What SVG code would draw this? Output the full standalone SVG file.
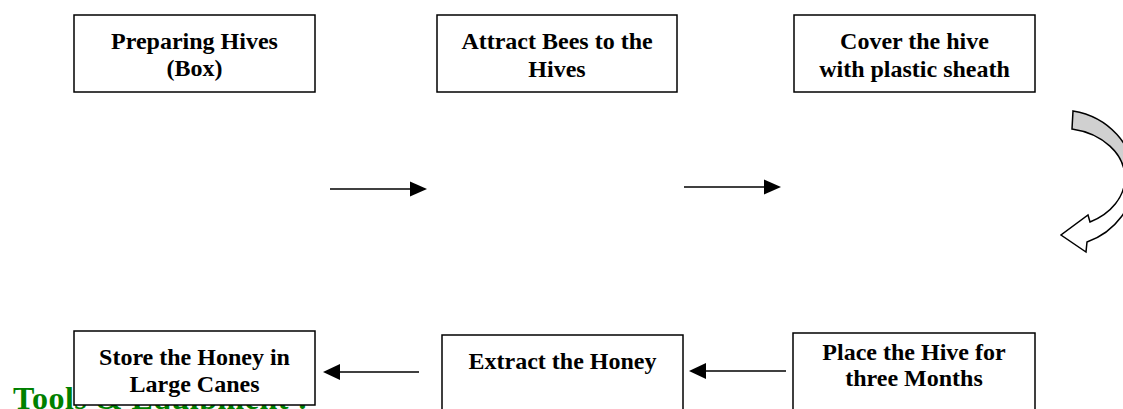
<svg xmlns="http://www.w3.org/2000/svg" width="1123" height="409" viewBox="0 0 1123 409">
<defs>
<style>
.box{fill:#fff;stroke:#000;stroke-width:1.5}
.t{font-family:"Liberation Serif","Times New Roman",serif;font-weight:bold;font-size:24px;fill:#000;text-anchor:middle}
.g{font-family:"Liberation Serif","Times New Roman",serif;font-weight:bold;font-size:32px;fill:#008000;letter-spacing:0.5px}
.c{stroke:#000;stroke-width:1.5;fill:none}
.h{fill:#000;stroke:none}
</style>
</defs>
<rect width="1123" height="409" fill="#fff"/>
<text class="g" x="13" y="409">Tools &amp; Equipment :</text>
<g id="n1"><rect class="box" x="74" y="15" width="241" height="77"/><text class="t" x="194.5" y="48.5">Preparing Hives</text><text class="t" x="194.5" y="76">(Box)</text></g>
<g id="n2"><rect class="box" x="437" y="15" width="240" height="77"/><text class="t" x="557" y="49">Attract Bees to the</text><text class="t" x="557" y="76.5">Hives</text></g>
<g id="n3"><rect class="box" x="794" y="15" width="241" height="77"/><text class="t" x="914.5" y="49">Cover the hive</text><text class="t" x="914.5" y="77">with plastic sheath</text></g>
<g id="n4"><rect class="box" x="793" y="333" width="242" height="85"/><text class="t" x="914" y="359.5">Place the Hive for</text><text class="t" x="914" y="386">three Months</text></g>
<g id="n5"><rect class="box" x="442" y="335" width="241" height="85"/><text class="t" x="562.5" y="368.5">Extract the Honey</text></g>
<g id="n6"><rect class="box" x="74" y="331" width="241" height="74"/><text class="t" x="194.5" y="364.5">Store the Honey in</text><text class="t" x="194.5" y="391.5">Large Canes</text></g>
<g id="connectors">
<line class="c" x1="330" y1="189" x2="412" y2="189"/><polygon class="h" points="427,189 410,181.5 410,196.5"/>
<line class="c" x1="684" y1="187" x2="766" y2="187"/><polygon class="h" points="781,187 764,179.5 764,194.5"/>
<line class="c" x1="786" y1="371" x2="704" y2="371"/><polygon class="h" points="689,371 706,363 706,379"/>
<line class="c" x1="419" y1="372" x2="338" y2="372"/><polygon class="h" points="323,372 340,364 340,380"/>
<path d="M1073,111 A74,68 0 0 1 1134,178 L1125,178 A65,50 0 0 0 1072,129 Z" fill="#d0d0d0" stroke="#000" stroke-width="1.5"/>
<path d="M1134,178 A74,68 0 0 1 1087,242 L1086,252 L1061,235 L1088,215 L1090,222 A65,50 0 0 0 1125,178" fill="#fff" stroke="#000" stroke-width="1.5"/>
</g>
</svg>
